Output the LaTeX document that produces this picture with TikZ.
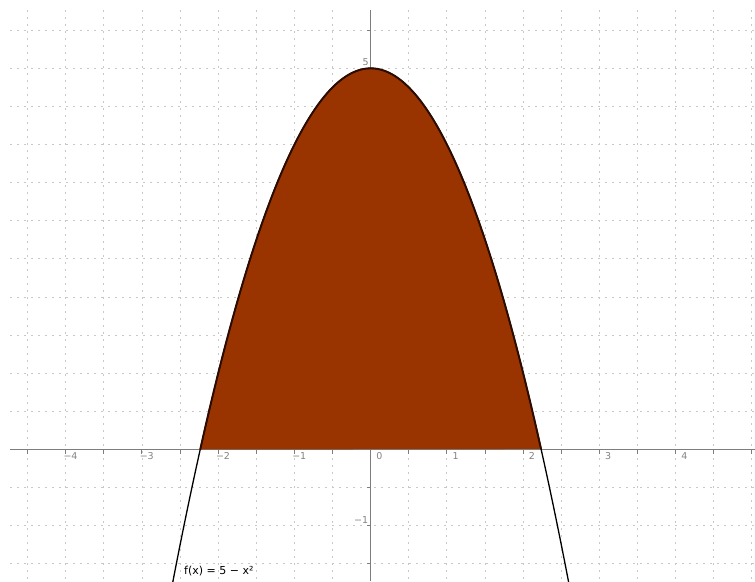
\documentclass[tikz,border=0pt]{standalone}
\usepackage{fontspec}
\setmainfont{DejaVu Sans}
\definecolor{fillbrown}{RGB}{153,51,0}
\definecolor{gridgray}{RGB}{200,200,200}
\definecolor{axisgray}{RGB}{125,125,125}
\definecolor{labelgray}{RGB}{130,130,130}
\definecolor{edgedark}{RGB}{45,12,0}
\begin{document}
\begin{tikzpicture}[x=76.24pt,y=76.24pt,
  gridline/.style={gridgray, line width=0.9pt, dash pattern=on 2pt off 5pt},
  axisline/.style={axisgray, line width=1.3pt},
  tickmark/.style={axisgray, line width=1pt},
  ticklabel/.style={labelgray, font=\fontsize{9.5}{10}\selectfont, inner sep=0pt},
  curveline/.style={black, line width=1.3pt},
  topcurve/.style={edgedark, line width=1.9pt},
  curvelabel/.style={black, font=\fontsize{11}{12}\selectfont, inner sep=0pt, anchor=base west}
  ]
\useasboundingbox (-4.8623,-1.7248) rectangle (5.0407,5.8959);
\begin{scope}
\clip (-4.8623,-1.7248) rectangle (5.0407,5.8959);
% grid
\foreach \i in {-9,...,10} \draw[gridline] (\i*0.5,5.7647) -- (\i*0.5,-1.7248);
\foreach \j in {-3,...,11} \draw[gridline] (-4.7311,\j*0.5) -- (5.0407,\j*0.5);
% axes
\coordinate (xstart) at (-4.7311,0);
\coordinate (xend) at (5.0407,0);
\coordinate (ystart) at (0,5.7647);
\coordinate (yend) at (0,-1.7248);
\draw[axisline] (xstart) -- (xend);
\draw[axisline] (ystart) -- (yend);
% ticks
\foreach \i in {-9,...,10} \draw[tickmark] (\i*0.5,0) -- (\i*0.5,-0.0525);
\foreach \j in {-3,...,11} \draw[tickmark] (0,\j*0.5) -- (-0.0525,\j*0.5);
% filled region
\fill[fillbrown] plot[domain=-2.23607:2.23607, samples=120, smooth] (\x,{5-\x*\x}) -- cycle;
% curve
\draw[curveline] plot[domain=-2.62:2.62, samples=150, smooth] (\x,{5-\x*\x});
\draw[topcurve] plot[domain=-2.23607:2.23607, samples=120, smooth] (\x,{5-\x*\x});
\end{scope}
% tick labels
\foreach \n/\t in {-4/−4,-3/−3,-2/−2,-1/−1,0/0,1/1,2/2,3/3,4/4}
  \node[ticklabel, anchor=north east] (xl\n) at (\n+0.1574,-0.036) {\t};
\node[ticklabel, anchor=south east] (yl5) at (-0.025,5.033) {5};
\node[ticklabel, anchor=south east] (ylm1) at (-0.030,-0.968) {−1};
% function label
\node[curvelabel] (flabel) at (-2.4489,-1.6330) {f(x) = 5 − x²};
\end{tikzpicture}
\end{document}
